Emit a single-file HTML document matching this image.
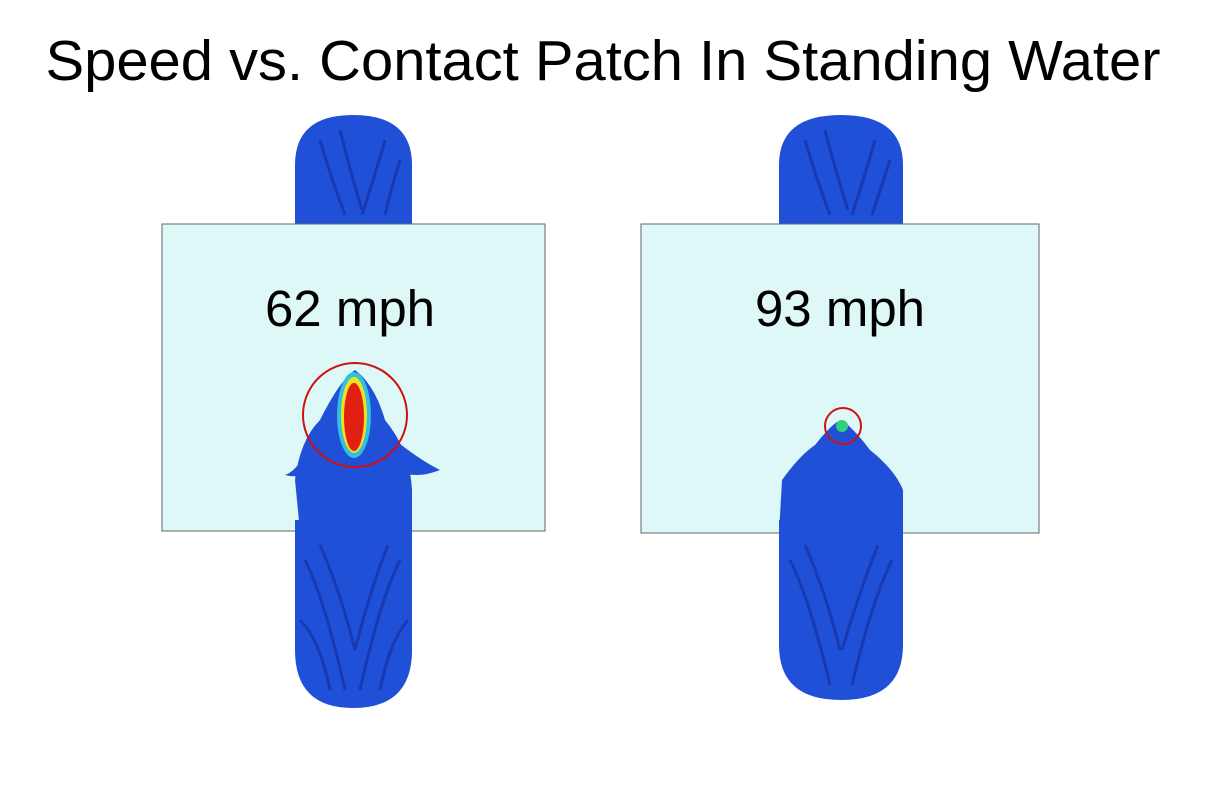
<!DOCTYPE html>
<html><head><style>
html,body{margin:0;padding:0;background:#fff;}
body{width:1206px;height:804px;overflow:hidden;font-family:"Liberation Sans",sans-serif;}
</style></head><body>
<svg width="1206" height="804" viewBox="0 0 1206 804" xmlns="http://www.w3.org/2000/svg">
<rect width="1206" height="804" fill="#fff"/>
<text x="603" y="80" text-anchor="middle" font-family="Liberation Sans, sans-serif" font-size="57" textLength="1115" lengthAdjust="spacingAndGlyphs" fill="#000">Speed vs. Contact Patch In Standing Water</text>

<!-- left -->
<path d="M295 224 L295 165 Q295 115 353 115 Q412 115 412 165 L412 224 Z" fill="#2050d8"/>
<g stroke="#1530a0" stroke-width="3" fill="none" opacity="0.7">
<path d="M320 140 Q330 175 345 215"/><path d="M340 130 Q350 170 362 210"/><path d="M385 140 Q375 175 362 215"/><path d="M400 160 Q392 185 385 215"/>
</g>
<rect x="162" y="224" width="383" height="307" fill="#def8f8" stroke="#666" stroke-width="1"/>
<path d="M295 520 L295 650 Q295 708 353 708 Q412 708 412 650 L412 520 Z" fill="#2050d8"/>
<path d="M300 531 L295 480 Q300 440 320 420 Q340 380 355 370 Q375 385 385 420 Q410 450 412 490 L412 531 Z" fill="#2050d8"/>
<path d="M310 440 Q300 470 285 475 Q305 480 320 465 Z M395 440 Q420 460 440 470 Q415 480 395 470 Z" fill="#2050d8"/>
<g stroke="#1530a0" stroke-width="3" fill="none" opacity="0.7">
<path d="M305 560 Q325 600 345 690"/><path d="M320 545 Q340 590 355 650"/><path d="M400 560 Q380 600 360 690"/><path d="M388 545 Q370 590 355 650"/>
<path d="M300 620 Q320 640 330 690"/><path d="M408 620 Q390 640 380 690"/>
</g>
<ellipse cx="354" cy="415" rx="17" ry="43" fill="#30c0e0"/>
<ellipse cx="354" cy="415" rx="13" ry="38" fill="#f0e020"/>
<ellipse cx="354" cy="417" rx="10" ry="34" fill="#e02010"/>
<circle cx="355" cy="415" r="52" fill="none" stroke="#d01010" stroke-width="2"/>
<text x="350" y="326" text-anchor="middle" font-size="51" fill="#000">62 mph</text>

<!-- right -->
<path d="M779 224 L779 165 Q779 115 841 115 Q903 115 903 165 L903 224 Z" fill="#2050d8"/>
<g stroke="#1530a0" stroke-width="3" fill="none" opacity="0.7">
<path d="M805 140 Q815 175 830 215"/><path d="M825 130 Q835 170 848 210"/><path d="M875 140 Q865 175 852 215"/><path d="M890 160 Q882 185 872 215"/>
</g>
<rect x="641" y="224" width="398" height="309" fill="#def8f8" stroke="#666" stroke-width="1"/>
<path d="M779 520 L779 645 Q779 700 841 700 Q903 700 903 645 L903 520 Z" fill="#2050d8"/>
<path d="M779 533 L782 480 Q800 455 815 445 Q835 420 842 420 Q855 430 870 450 Q895 470 903 490 L903 533 Z" fill="#2050d8"/>
<g stroke="#1530a0" stroke-width="3" fill="none" opacity="0.7">
<path d="M790 560 Q810 600 830 685"/><path d="M805 545 Q825 590 840 650"/><path d="M892 560 Q872 600 852 685"/><path d="M878 545 Q860 590 842 650"/>
</g>
<circle cx="842" cy="426" r="6" fill="#30d080"/>
<circle cx="843" cy="426" r="18" fill="none" stroke="#d01010" stroke-width="2"/>
<text x="840" y="326" text-anchor="middle" font-size="51" fill="#000">93 mph</text>
</svg>
</body></html>
